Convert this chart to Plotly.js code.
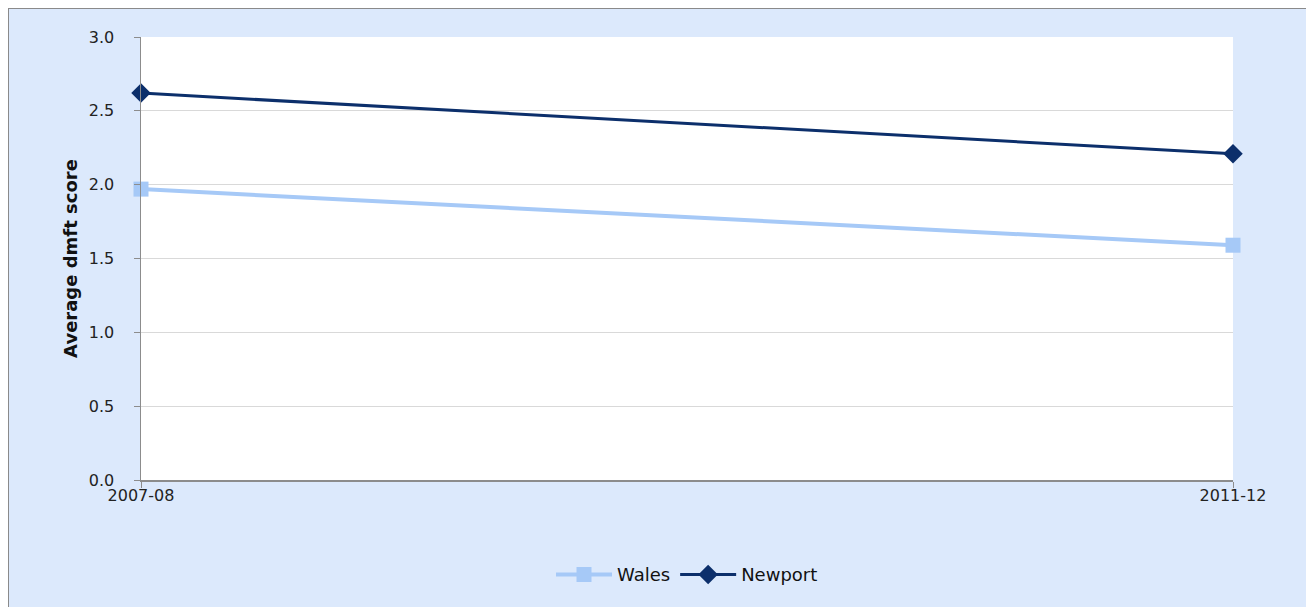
<!DOCTYPE html>
<html>
<head>
<meta charset="utf-8">
<script src="https://cdn.plot.ly/plotly-3.0.1.min.js"></script>
<style>
html,body{margin:0;padding:0;background:#ffffff;width:1306px;height:607px;overflow:hidden;}
#frame{position:absolute;left:8px;top:8px;width:1400px;height:700px;background:#dce9fc;border-left:1px solid #8a8a8a;border-top:1px solid #8a8a8a;}
#chart{position:absolute;left:0;top:0;width:1306px;height:607px;}
</style>
</head>
<body>
<div id="frame"></div>
<div id="chart"></div>
<script>
const categories = ["2007-08", "2011-12"];
const walesValues = [1.97, 1.59];
const newportValues = [2.62, 2.21];
const yTickVals = [0, 0.5, 1.0, 1.5, 2.0, 2.5, 3.0];
const yTickText = ["0.0", "0.5", "1.0", "1.5", "2.0", "2.5", "3.0"];

const traces = [
  {
    x: categories, y: walesValues, name: "Wales", type: "scatter", mode: "lines+markers",
    line: {color: "#a6c9f7", width: 4},
    marker: {symbol: "square", size: 15, color: "#a6c9f7"},
    cliponaxis: false
  },
  {
    x: categories, y: newportValues, name: "Newport", type: "scatter", mode: "lines+markers",
    line: {color: "#0c2f6b", width: 3},
    marker: {symbol: "diamond", size: 15, color: "#0c2f6b"},
    cliponaxis: false
  }
];

const layout = {
  width: 1306, height: 607,
  paper_bgcolor: "rgba(0,0,0,0)",
  plot_bgcolor: "#ffffff",
  margin: {l: 141, r: 73, t: 37, b: 127},
  font: {family: "DejaVu Sans, Verdana, sans-serif", size: 16, color: "#222222"},
  xaxis: {
    type: "category", range: [0, 1], showgrid: false, zeroline: false,
    showline: true, linecolor: "#8c8c8c", linewidth: 1.5,
    ticks: "outside", ticklen: 6, tickcolor: "#8c8c8c",
    ticklabelstandoff: -6,
    tickfont: {size: 16, color: "#222222"}, fixedrange: true
  },
  yaxis: {
    range: [0, 3], tickvals: yTickVals, ticktext: yTickText,
    showgrid: true, gridcolor: "#d9d9d9", gridwidth: 1, zeroline: false,
    showline: true, linecolor: "#8c8c8c", linewidth: 1.5,
    ticks: "outside", ticklen: 6, tickcolor: "#8c8c8c",
    ticklabelstandoff: 16,
    tickfont: {size: 16, color: "#222222"},
    title: {text: "<b>Average dmft score</b>", font: {size: 18, color: "#111111"}, standoff: 6},
    fixedrange: true
  },
  legend: {
    orientation: "h", x: 0.5, xanchor: "center", y: -0.172, yanchor: "top",
    bgcolor: "rgba(0,0,0,0)", font: {size: 18, color: "#111111"}, itemwidth: 56
  },
  showlegend: true
};

Plotly.newPlot("chart", traces, layout, {displayModeBar: false, staticPlot: true});
</script>
</body>
</html>
